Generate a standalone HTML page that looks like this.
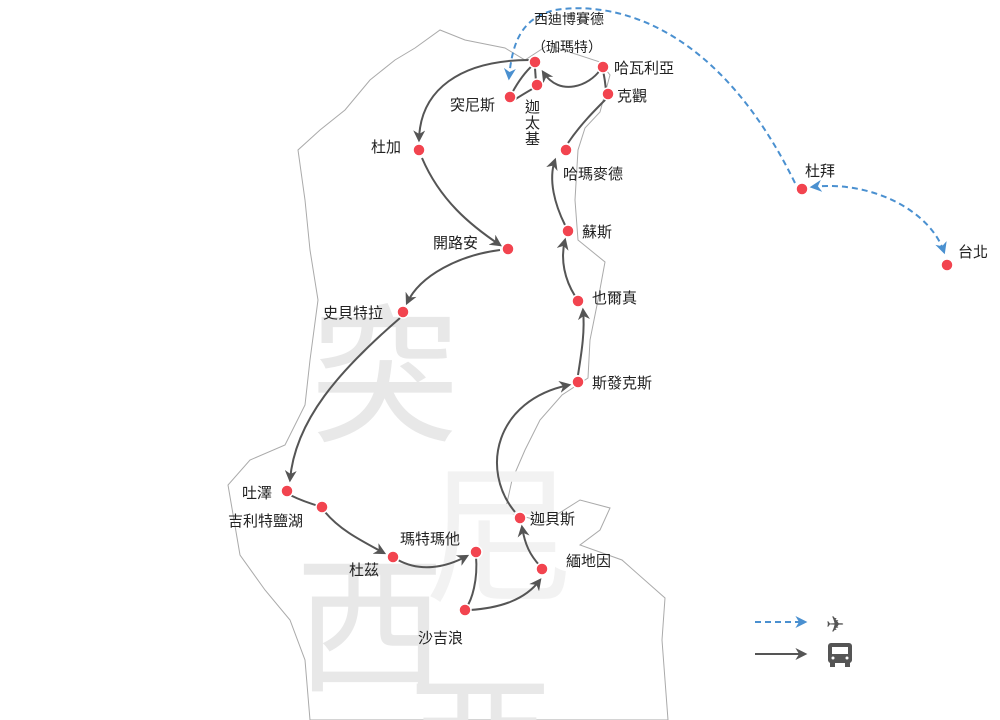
<!DOCTYPE html>
<html><head><meta charset="utf-8"><style>
html,body{margin:0;padding:0;background:#fff;overflow:hidden;width:1000px;height:720px;}
svg{display:block;}
.t text{font-family:"Liberation Sans","Noto Sans CJK TC",sans-serif;fill:#222;}
</style></head><body>
<svg width="1000" height="720" viewBox="0 0 1000 720" xmlns="http://www.w3.org/2000/svg">
<defs>
<marker id="ag" viewBox="0 0 10 10" refX="8" refY="5" markerWidth="6" markerHeight="6" orient="auto"><path d="M0,0 L10,5 L0,10 L3,5 z" fill="#555"/></marker>
<marker id="ab" viewBox="0 0 10 10" refX="8" refY="5" markerWidth="6" markerHeight="6" orient="auto-start-reverse"><path d="M0,0 L10,5 L0,10 L3,5 z" fill="#4a90d0"/></marker>
<clipPath id="cp"><rect x="0" y="0" width="1000" height="720"/></clipPath>
</defs>
<path d="M415,48 L440,30 L465,40 L505,48 L525,60 L548,45 L600,62 L610,75 L600,112 L585,128 L578,150 L575,200 L578,240 L605,262 L598,300 L590,340 L588,378 L562,395 L540,420 L525,450 L512,480 L505,512 L545,522 L580,500 L610,508 L600,530 L580,545 L622,560 L665,598 L662,640 L668,720 L310,720 L305,660 L290,620 L265,590 L240,555 L228,485 L250,460 L285,445 L305,405 L310,360 L318,300 L310,250 L305,200 L298,150 L320,130 L345,110 L370,80 L395,60 Z" fill="#fff" stroke="#aaa" stroke-width="1"/>
<g font-size="150" style="font-family:'Noto Sans CJK TC',sans-serif" clip-path="url(#cp)">
<text x="310" y="430" style="fill:#e8e8e8">突</text>
<text x="425" y="590" style="fill:#f2f2f2">尼</text>
<text x="295" y="680" style="fill:#e8e8e8">西</text>
<text x="405" y="800" style="fill:#e8e8e8">亞</text>
</g>
<g fill="none" stroke="#555" stroke-width="2">
<path d="M530,60 C460,60 420,90 419,140" marker-end="url(#ag)"/>
<path d="M422,158 C440,200 470,225 500,245" marker-end="url(#ag)"/>
<path d="M500,250 C460,255 420,275 407,303" marker-end="url(#ag)"/>
<path d="M400,318 C340,370 295,420 290,480" marker-end="url(#ag)"/>
<path d="M290,495 C300,500 315,505 322,507"/>
<path d="M325,512 C340,530 360,540 384,553" marker-end="url(#ag)"/>
<path d="M398,560 C420,572 445,568 467,556" marker-end="url(#ag)"/>
<path d="M476,556 C478,580 472,600 466,608"/>
<path d="M470,610 C500,608 525,600 540,580" marker-end="url(#ag)"/>
<path d="M540,566 C530,555 525,545 522,527" marker-end="url(#ag)"/>
<path d="M515,512 C480,470 495,400 569,385" marker-end="url(#ag)"/>
<path d="M578,375 C582,350 585,330 583,310" marker-end="url(#ag)"/>
<path d="M575,296 C565,280 560,260 565,240" marker-end="url(#ag)"/>
<path d="M565,225 C555,205 548,180 555,160" marker-end="url(#ag)"/>
<path d="M568,143 C580,125 595,110 607,98"/>
<path d="M606,90 C605,80 604,75 603,70"/>
<path d="M600,70 C590,85 560,98 543,72" marker-end="url(#ag)"/>
<path d="M512,93 C518,82 525,72 533,65"/>
<path d="M514,100 C522,95 530,90 536,87"/>
<path d="M536,82 L535,68"/>
</g>
<g fill="none" stroke="#4a90d0" stroke-width="2" stroke-dasharray="6,4">
<path d="M795,183 C720,30 620,0 555,10 C520,18 512,45 509,78" marker-end="url(#ab)"/>
<path d="M812,187 C870,180 930,210 944,252" marker-start="url(#ab)" marker-end="url(#ab)"/>
</g>
<g fill="#f2444f" stroke="#fff" stroke-width="1.5">
<circle cx="535" cy="62" r="6"/><circle cx="510" cy="97" r="6"/><circle cx="537" cy="85" r="6"/>
<circle cx="603" cy="67" r="6"/><circle cx="608" cy="94" r="6"/><circle cx="419" cy="150" r="6"/>
<circle cx="566" cy="150" r="6"/><circle cx="508" cy="249" r="6"/><circle cx="568" cy="231" r="6"/>
<circle cx="403" cy="312" r="6"/><circle cx="578" cy="301" r="6"/><circle cx="578" cy="382" r="6"/>
<circle cx="287" cy="491" r="6"/><circle cx="322" cy="507" r="6"/><circle cx="393" cy="557" r="6"/>
<circle cx="476" cy="552" r="6"/><circle cx="465" cy="610" r="6"/><circle cx="542" cy="569" r="6"/>
<circle cx="520" cy="518" r="6"/><circle cx="802" cy="189" r="6"/><circle cx="947" cy="265" r="6"/>
</g>
<g font-size="15" class="t">
<text x="534" y="24" font-size="14">西迪博賽德</text>
<text x="532" y="52" font-size="14">（珈瑪特）</text>
<text x="450" y="110">突尼斯</text>
<text x="525" y="112">迦</text><text x="525" y="128">太</text><text x="525" y="144">基</text>
<text x="614" y="73">哈瓦利亞</text>
<text x="617" y="101">克觀</text>
<text x="371" y="152">杜加</text>
<text x="563" y="179">哈瑪麥德</text>
<text x="433" y="248">開路安</text>
<text x="582" y="237">蘇斯</text>
<text x="323" y="318">史貝特拉</text>
<text x="592" y="303">也爾真</text>
<text x="592" y="388">斯發克斯</text>
<text x="242" y="498">吐澤</text>
<text x="228" y="526">吉利特鹽湖</text>
<text x="349" y="575">杜茲</text>
<text x="400" y="544">瑪特瑪他</text>
<text x="418" y="643">沙吉浪</text>
<text x="566" y="566">緬地因</text>
<text x="530" y="524">迦貝斯</text>
<text x="805" y="176">杜拜</text>
<text x="958" y="257">台北</text>
<text x="826" y="632" font-size="22" style="fill:#555">✈</text>
</g>
<path d="M755,622 L805,622" stroke="#4a90d0" stroke-width="2" stroke-dasharray="6,4" marker-end="url(#ab)"/>
<path d="M755,654 L805,654" stroke="#555" stroke-width="2" marker-end="url(#ag)"/>
<g fill="#555">
<rect x="828" y="643" width="24" height="20" rx="3"/>
<rect x="832" y="647" width="16" height="7" fill="#fff"/>
<rect x="830" y="662" width="5" height="5"/><rect x="845" y="662" width="5" height="5"/>
<circle cx="833" cy="658" r="1.5" fill="#fff"/><circle cx="847" cy="658" r="1.5" fill="#fff"/>
</g>
</svg>
</body></html>
